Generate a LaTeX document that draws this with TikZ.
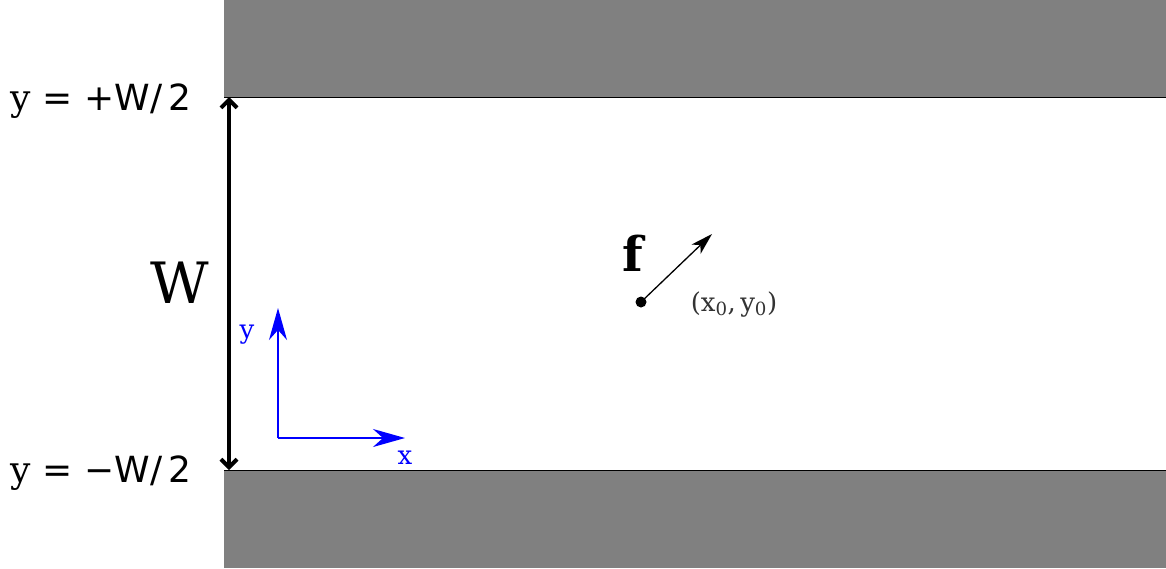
\documentclass[tikz,border=0pt]{standalone}
\usepackage{fontspec}
\setmainfont{DejaVu Serif}
\newfontfamily\dvsans{DejaVu Sans}
\usetikzlibrary{arrows.meta}
\begin{document}
\begin{tikzpicture}[x=1pt,y=-1pt,
  wall/.style={fill=black!50,draw=none},
  edge/.style={line width=1pt},
  lab/.style={inner sep=0pt,font=\fontsize{36}{40}\selectfont},
  axis/.style={blue,line width=1.5pt,-{Stealth[length=32pt,width=18pt,inset=10pt]}},
  bigarrow/.style={line width=4pt,{Straight Barb[length=8pt,width=16pt]}-{Straight Barb[length=8pt,width=16pt]}}]
\useasboundingbox (0,0) rectangle (1166,568);
\fill[wall] (224,0) rectangle (1166,97);
\fill[wall] (224,470) rectangle (1166,568);
\draw[edge] (224,97) -- (1166,97);
\draw[edge] (224,470) -- (1166,470);
\coordinate (top) at (229,97);
\coordinate (bot) at (229,470);
\draw[bigarrow] (top) -- (bot);
\node[lab,anchor=base] (ltop) at (101,110) {y {\dvsans = +W/\,2}};
\node[lab,anchor=base] (lbot) at (101,482) {y {\dvsans = −W/\,2}};
\node[inner sep=0pt,font=\fontsize{57}{60}\selectfont,anchor=base] (Wl) at (180,303) {W};
% axes
\coordinate (O) at (278,438);
\coordinate (Y) at (278,308);
\coordinate (X) at (405,438);
\draw[axis] (O) -- (Y);
\draw[axis] (O) -- (X);
\node[blue,inner sep=0pt,font=\fontsize{26}{30}\selectfont,anchor=base] (ylab) at (247,338) {y};
\node[blue,inner sep=0pt,font=\fontsize{26}{30}\selectfont,anchor=base] (xlab) at (405,464) {x};
% force
\node[circle,fill=black,inner sep=0pt,minimum size=11pt] (dot) at (641,302) {};
\coordinate (ftip) at (712,234);
\draw[line width=1.3pt,-{Stealth[length=22pt,width=13pt,inset=6pt]}] (dot.center) -- (ftip);
\node[inner sep=0pt,font=\fontsize{48}{50}\selectfont\bfseries,anchor=base] (f) at (633,271) {f};
\node[inner sep=0pt,text=black!80,font=\fontsize{26}{28}\selectfont,anchor=base] (pos) at (734,311) {(x\textsubscript{0},\,y\textsubscript{0})};
\end{tikzpicture}
\end{document}
